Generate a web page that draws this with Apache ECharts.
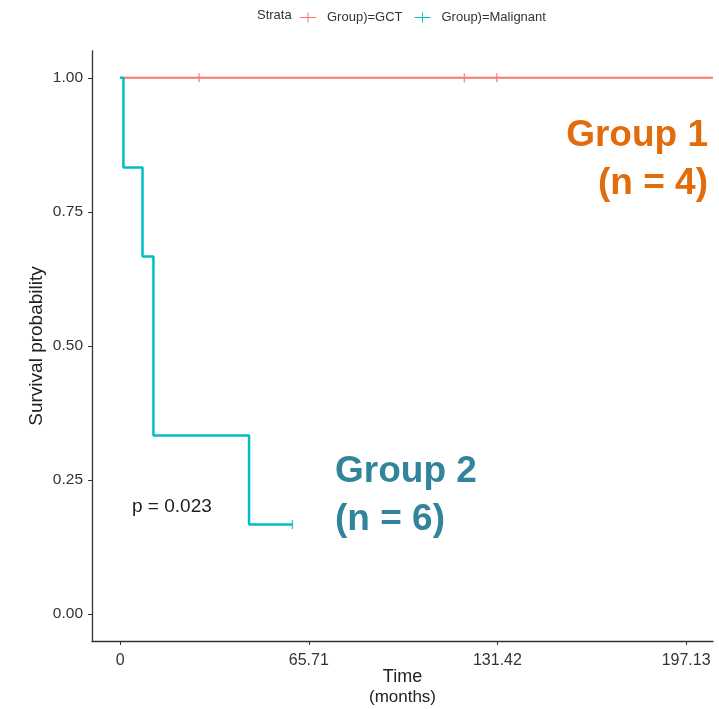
<!DOCTYPE html>
<html>
<head>
<meta charset="utf-8">
<script src="https://cdn.jsdelivr.net/npm/echarts@6/dist/echarts.min.js"></script>
<style>html,body{margin:0;padding:0;background:#fff}#c{width:719px;height:709px}</style>
</head>
<body>
<div id="c"></div>
<script>
// ---- data ----
const xTicks = [0, 65.71, 131.42, 197.13];
const yTicks = [0, 0.25, 0.5, 0.75, 1];
const gctTimes = [0, 206.5];
const gctSurv = [1, 1];
const gctCensorTimes = [27.5, 119.9, 131.2];
const gctCensorSurv = [1, 1, 1];
const malTimes = [0, 1.15, 7.8, 11.6, 44.9, 60];
const malSurv = [1, 0.833, 0.667, 0.333, 0.167, 0.167];
const malCensorTimes = [60];
const malCensorSurv = [0.167];
const legendNames = ['Group)=GCT', 'Group)=Malignant'];

const RED = '#F8766D', TEAL = '#00BFC4';
const FONT = 'Liberation Sans, Arial, sans-serif';
const zip = (a, b) => a.map((v, i) => [v, b[i]]);
const plusIcon = 'path://M0,4.5 L16,4.5 L16,5.5 L0,5.5 Z M7.5,0 L8.5,0 L8.5,10 L7.5,10 Z';

const chart = echarts.init(document.getElementById('c'));
chart.setOption({
  backgroundColor: '#fff',
  animation: false,
  color: [RED, TEAL],
  textStyle: { fontFamily: FONT },
  grid: { left: 92, top: 51, right: 6, bottom: 68, containLabel: false, outerBoundsMode: 'none' },
  legend: {
    data: [
      { name: legendNames[0], icon: plusIcon, itemStyle: { color: RED, borderWidth: 0 } },
      { name: legendNames[1], icon: plusIcon, itemStyle: { color: TEAL, borderWidth: 0 } }
    ],
    left: 295, top: 6, itemWidth: 16, itemHeight: 10, itemGap: 12,
    textStyle: { fontSize: 13, color: '#333', padding: [0, 0, 0, 6] }
  },
  xAxis: {
    type: 'value', min: -9.8, max: 206.5,
    splitLine: { show: false },
    axisLine: { onZero: false, lineStyle: { color: '#333', width: 1.3 } },
    axisTick: { show: true, length: 4, customValues: xTicks, lineStyle: { color: '#333' } },
    axisLabel: { customValues: xTicks, fontSize: 16, color: '#333', margin: 12,
      formatter: v => v === 0 ? '0' : v.toFixed(2) },
    name: '{a|Time}\n{b|(months)}', nameLocation: 'middle', nameGap: 26, nameMoveOverlap: false,
    nameTextStyle: { rich: { a: { fontSize: 18, color: '#222', lineHeight: 20 }, b: { fontSize: 17, color: '#222', lineHeight: 20 } } }
  },
  yAxis: {
    type: 'value', min: -0.05, max: 1.05,
    splitLine: { show: false },
    axisLine: { onZero: false, lineStyle: { color: '#333', width: 1.3 } },
    axisTick: { show: true, length: 4, customValues: yTicks, lineStyle: { color: '#333' } },
    axisLabel: { customValues: yTicks, fontSize: 15.5, color: '#333', margin: 9,
      formatter: v => v.toFixed(2) },
    name: 'Survival probability', nameLocation: 'middle', nameGap: 46, nameMoveOverlap: false,
    nameTextStyle: { fontSize: 19, color: '#222' }
  },
  series: [
    { name: legendNames[0], type: 'line', step: 'end', showSymbol: false,
      data: zip(gctTimes, gctSurv), lineStyle: { color: RED, width: 2 }, itemStyle: { color: RED } },
    { name: legendNames[1], type: 'line', step: 'end', showSymbol: false,
      data: zip(malTimes, malSurv), lineStyle: { color: TEAL, width: 2.5 }, itemStyle: { color: TEAL } },
    { name: 'GCT censored', type: 'scatter', symbol: 'rect', symbolSize: [1.5, 9],
      data: zip(gctCensorTimes, gctCensorSurv), itemStyle: { color: RED } },
    { name: 'Malignant censored', type: 'scatter', symbol: 'rect', symbolSize: [1.5, 9],
      data: zip(malCensorTimes, malCensorSurv), itemStyle: { color: TEAL } }
  ],
  graphic: [
    { type: 'text', x: 257, y: 9, style: { text: 'Strata', fontSize: 13, fill: '#333', fontFamily: FONT } },
    { type: 'text', x: 132, y: 497, style: { text: 'p = 0.023', fontSize: 19, fill: '#222', fontFamily: FONT } },
    { type: 'text', x: 708, y: 112, style: { text: 'Group 1\n(n = 4)', align: 'right', fontSize: 37, fontWeight: 'bold', lineHeight: 48, fill: '#E36C0A', fontFamily: FONT } },
    { type: 'text', x: 335, y: 448, style: { text: 'Group 2\n(n = 6)', fontSize: 37, fontWeight: 'bold', lineHeight: 48, fill: '#31849B', fontFamily: FONT } }
  ]
});
</script>
</body>
</html>
